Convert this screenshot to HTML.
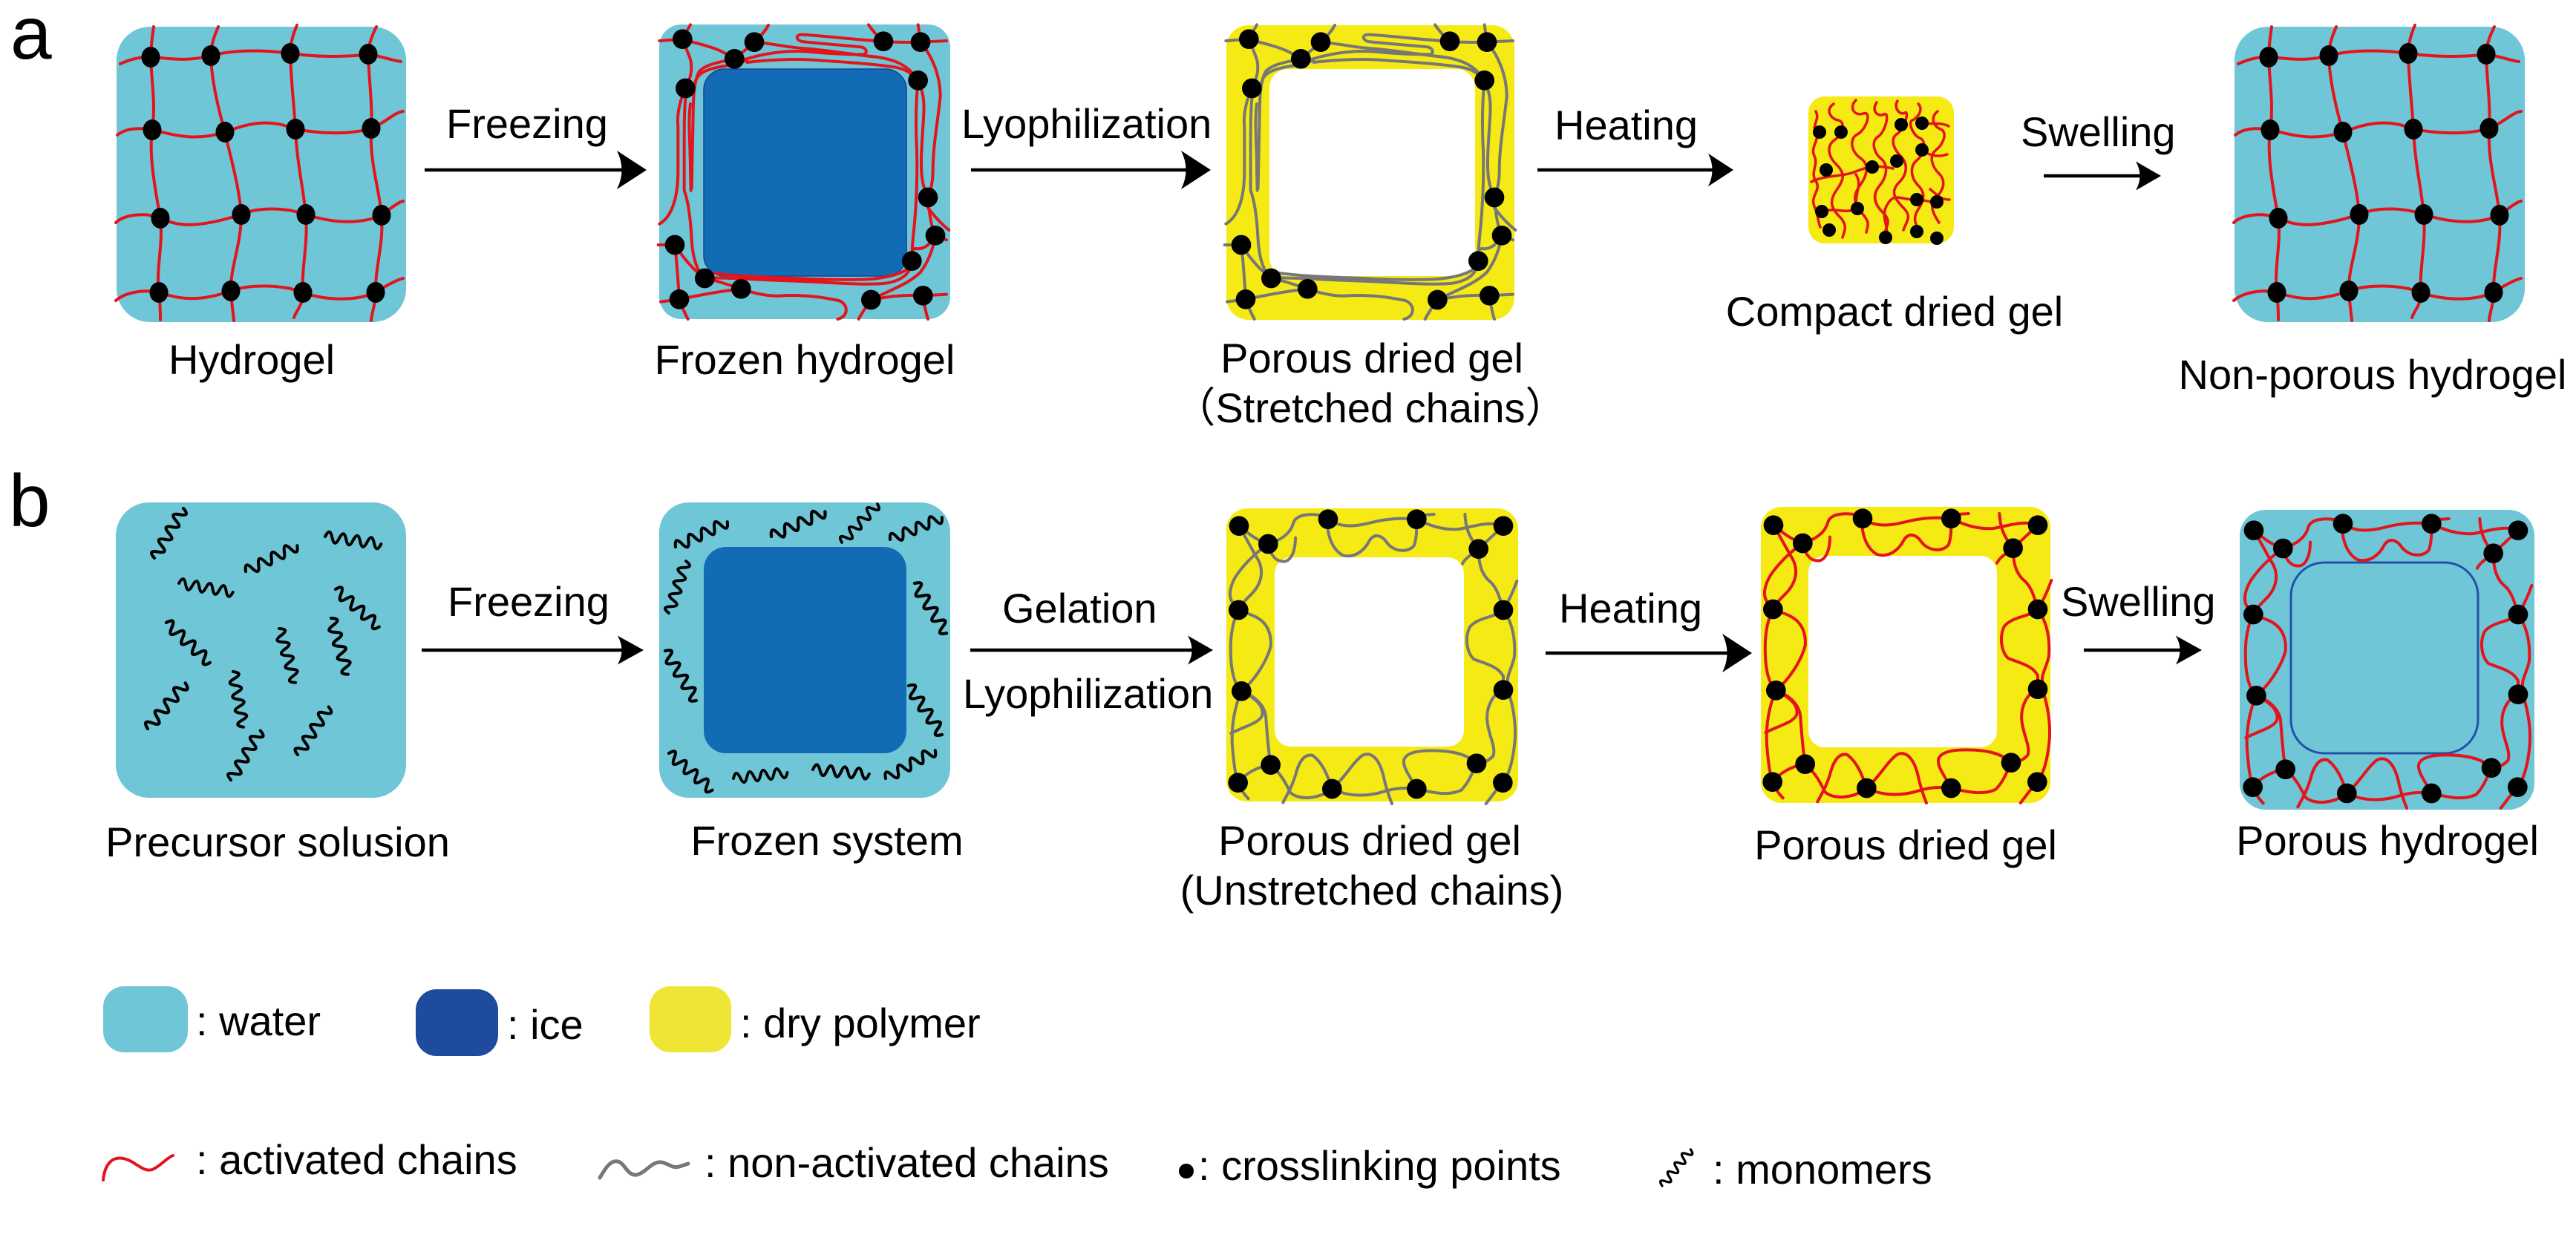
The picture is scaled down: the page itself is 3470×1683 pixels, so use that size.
<!DOCTYPE html>
<html>
<head>
<meta charset="utf-8">
<style>
html,body{margin:0;padding:0;background:#fff;}
svg{display:block;}
text{font-family:"Liberation Sans","Noto Sans CJK SC",Arial,sans-serif;fill:#000;}
</style>
</head>
<body>
<svg width="3470" height="1683" viewBox="0 0 3470 1683" xmlns="http://www.w3.org/2000/svg">
<defs>
  <path id="ah" d="M0,0 L-40,-26 Q-27,0 -40,26 Z" fill="#000"/>
  <path id="mono" d="M0,0 q4.75,-14 9.5,0 t9.5,0 t9.5,0 t9.5,0 t9.5,0 t9.5,0 t9.5,0 t9.5,0" fill="none" stroke="#000" stroke-width="4" stroke-linecap="round"/>

  <!-- hydrogel grid -->
  <g id="grid">
    <g fill="none" stroke="#e3141b" stroke-width="4" stroke-linecap="round">
      <path d="M162,86 C180,78 190,77 203,77 C225,78 250,84 284,75 C310,68 350,66 391,72 C420,76 460,78 496,73 C515,76 530,82 540,83"/>
      <path d="M158,182 C170,172 190,172 205,175 C230,180 260,192 303,178 C330,168 360,158 398,174 C430,180 470,182 500,173 C520,165 530,152 543,150"/>
      <path d="M156,300 C165,290 195,285 216,294 C240,305 265,308 325,289 C345,280 380,278 412,289 C440,298 480,305 514,290 C525,282 535,273 543,271"/>
      <path d="M156,405 C170,393 195,390 214,394 C235,400 260,410 311,392 C335,383 380,383 408,394 C430,403 475,408 506,394 C520,385 532,378 543,375"/>
      <path d="M207,36 C205,50 203,65 203,77 C204,110 210,140 205,175 C200,210 210,260 216,294 C220,330 210,360 214,394 C216,410 216,420 216,431"/>
      <path d="M294,36 C288,50 284,62 284,75 C285,110 295,150 303,178 C310,210 322,250 325,289 C325,330 310,360 311,392 C312,410 314,420 315,432"/>
      <path d="M400,34 C394,48 391,60 391,72 C392,110 396,140 398,174 C400,220 408,250 412,289 C415,330 406,360 408,394 C409,410 398,420 396,428"/>
      <path d="M507,36 C500,50 496,62 496,73 C497,110 502,140 500,173 C498,220 510,250 514,290 C517,330 505,360 506,394 C506,410 501,420 500,432"/>
    </g>
    <g fill="#000">
      <ellipse cx="203" cy="77" rx="12.5" ry="14"/><ellipse cx="284" cy="75" rx="12.5" ry="14"/><ellipse cx="391" cy="72" rx="12.5" ry="14"/><ellipse cx="496" cy="73" rx="12.5" ry="14"/>
      <ellipse cx="205" cy="175" rx="12.5" ry="14"/><ellipse cx="303" cy="178" rx="12.5" ry="14"/><ellipse cx="398" cy="174" rx="12.5" ry="14"/><ellipse cx="500" cy="173" rx="12.5" ry="14"/>
      <ellipse cx="216" cy="294" rx="12.5" ry="14"/><ellipse cx="325" cy="289" rx="12.5" ry="14"/><ellipse cx="412" cy="289" rx="12.5" ry="14"/><ellipse cx="514" cy="290" rx="12.5" ry="14"/>
      <ellipse cx="214" cy="394" rx="12.5" ry="14"/><ellipse cx="311" cy="392" rx="12.5" ry="14"/><ellipse cx="408" cy="394" rx="12.5" ry="14"/><ellipse cx="506" cy="394" rx="12.5" ry="14"/>
    </g>
  </g>

  <!-- stretched chains (zoom coords, scale 1/3) -->
  <g id="stretchChains" fill="none" stroke-width="12" stroke-linecap="round" stroke-linejoin="round">
    <path d="M25,815 C70,790 100,720 100,600 L100,420 C95,380 105,320 130,267"/>
    <path d="M130,267 C150,230 160,190 150,150 C140,120 125,90 118,68"/>
    <path d="M150,10 C140,30 125,50 118,68"/>
    <path d="M25,75 L118,68"/>
    <path d="M118,68 C170,85 230,95 280,120 C300,130 315,140 328,148"/>
    <path d="M328,148 C360,120 390,100 408,80 C430,60 450,40 465,12"/>
    <path d="M130,310 C125,360 125,420 125,520 L125,680 C140,720 150,780 155,880 C160,960 180,1010 208,1035"/>
    <path d="M155,670 L160,420 C162,320 160,250 185,200 C210,170 270,160 328,148"/>
    <path d="M170,240 C180,200 230,185 300,175 C340,168 370,160 380,150"/>
    <path d="M370,150 C450,125 550,110 640,120 C720,128 800,130 850,130 C865,128 865,105 840,100 C760,92 660,85 600,78 C575,70 575,50 600,50 C700,55 800,70 930,77"/>
    <path d="M408,80 C470,85 540,100 600,105 C700,112 800,130 900,140 C970,150 1030,170 1070,235"/>
    <path d="M380,162 C460,152 560,147 640,152 C760,160 880,167 980,182 C1030,192 1050,212 1060,232"/>
    <path d="M930,77 C950,80 1010,82 1080,80 L1185,75"/>
    <path d="M870,10 C890,40 910,60 930,77"/>
    <path d="M1070,10 L1080,80"/>
    <path d="M1080,80 C1130,140 1160,220 1160,300 C1150,400 1130,500 1130,600 C1130,650 1120,680 1110,708"/>
    <path d="M1070,235 C1100,300 1095,350 1090,420 C1085,500 1080,560 1085,620 C1090,660 1100,690 1110,708"/>
    <path d="M1070,235 C1060,330 1060,420 1065,520 C1068,650 1060,780 1050,870 C1045,920 1045,940 1045,965"/>
    <path d="M1110,708 C1115,780 1125,830 1140,862"/>
    <path d="M1110,750 C1140,790 1170,820 1195,840"/>
    <path d="M1140,862 L1185,880"/>
    <path d="M1140,862 C1120,900 1090,920 1060,915 C1045,915 1040,935 1045,965"/>
    <path d="M1045,965 C1040,1020 1000,1045 940,1055 C850,1065 700,1050 550,1045 C400,1040 280,1030 208,1035"/>
    <path d="M1045,985 C1010,1015 960,1030 880,1038 C750,1045 600,1036 450,1030 C350,1026 280,1020 230,1012"/>
    <path d="M208,1035 C260,1045 300,1060 355,1078"/>
    <path d="M355,1078 C420,1100 480,1110 520,1105 C620,1100 700,1115 750,1125 C790,1140 790,1190 745,1200"/>
    <path d="M355,1078 C280,1085 200,1100 105,1120 L30,1130"/>
    <path d="M105,1120 C115,1150 130,1180 140,1200"/>
    <path d="M87,900 L20,900"/>
    <path d="M87,900 C95,960 100,1040 105,1120"/>
    <path d="M87,900 C120,950 160,1000 208,1035"/>
    <path d="M880,1122 C860,1150 840,1180 830,1200"/>
    <path d="M880,1122 C940,1110 1020,1100 1090,1105 L1185,1100"/>
    <path d="M1090,1105 C1095,1140 1100,1170 1110,1200"/>
    <path d="M880,1122 C950,1085 1030,1060 1080,1010 C1110,970 1130,920 1140,862"/>
    <path d="M150,330 C140,400 150,500 150,600 L152,680"/>
    <g fill="#000" stroke="none">
      <circle cx="118" cy="68" r="40"/><circle cx="408" cy="80" r="40"/><circle cx="328" cy="148" r="40"/>
      <circle cx="930" cy="77" r="40"/><circle cx="1080" cy="80" r="40"/><circle cx="1070" cy="235" r="40"/>
      <circle cx="130" cy="267" r="40"/><circle cx="1110" cy="708" r="40"/><circle cx="1140" cy="862" r="40"/>
      <circle cx="87" cy="900" r="40"/><circle cx="1045" cy="965" r="40"/><circle cx="208" cy="1035" r="40"/>
      <circle cx="355" cy="1078" r="40"/><circle cx="880" cy="1122" r="40"/><circle cx="1090" cy="1105" r="40"/>
      <circle cx="105" cy="1120" r="40"/>
    </g>
  </g>

  <!-- unstretched chains (zoom coords, scale 1/3) -->
  <g id="looseChains" fill="none" stroke-width="12" stroke-linecap="round" stroke-linejoin="round">
    <path d="M72,92 C100,110 120,140 190,165"/>
    <path d="M72,92 C95,130 120,180 150,230 C175,280 160,330 120,370 C95,395 80,410 70,432"/>
    <path d="M190,165 C140,200 100,240 70,280 C40,320 25,370 45,400 C55,415 65,425 70,432"/>
    <path d="M190,165 C240,150 280,125 292,80 C300,50 350,35 432,55"/>
    <path d="M190,165 C200,210 220,240 260,235 C290,225 300,180 300,140"/>
    <path d="M432,65 C425,110 440,180 490,210 C540,225 580,190 600,150 C620,120 650,130 670,160 C700,200 760,200 780,170 C790,140 790,110 790,65"/>
    <path d="M432,65 C480,100 540,95 600,80 C680,60 730,60 790,65"/>
    <path d="M790,50 L860,45"/>
    <path d="M790,65 C840,90 900,110 960,105 C1020,95 1080,70 1140,92"/>
    <path d="M985,45 C988,90 995,130 1040,185"/>
    <path d="M1040,185 L1140,92"/>
    <path d="M975,245 C985,225 1000,215 1040,185"/>
    <path d="M1040,185 C1040,240 1050,290 1090,320 C1120,350 1130,400 1140,432"/>
    <path d="M1195,315 C1175,370 1160,400 1140,432"/>
    <path d="M1140,432 C1100,465 1040,460 1005,500 C985,540 990,600 1020,630 C1070,650 1120,660 1140,700 L1140,755"/>
    <path d="M1140,432 C1175,480 1190,540 1185,620 C1175,670 1150,700 1160,730"/>
    <path d="M1140,755 C1100,770 1070,820 1075,880 C1080,940 1110,980 1100,1020 C1085,1040 1060,1050 1032,1052"/>
    <path d="M1160,760 C1180,820 1195,900 1185,980 C1175,1060 1160,1100 1138,1130"/>
    <path d="M1138,1130 C1110,1160 1090,1190 1070,1215"/>
    <path d="M1032,1052 C990,1010 920,1000 850,1000 C790,1000 745,1010 738,1040 C735,1070 760,1100 790,1155"/>
    <path d="M790,1155 C850,1170 920,1185 970,1160 C1000,1130 1015,1090 1032,1052"/>
    <path d="M448,1155 C430,1100 410,1050 370,1020 C330,1010 310,1060 300,1100 C285,1150 265,1180 250,1210"/>
    <path d="M448,1155 C500,1110 530,1050 570,1020 C610,1000 640,1040 655,1100 C665,1150 680,1190 690,1215"/>
    <path d="M448,1155 C520,1190 600,1185 660,1165 C710,1150 750,1150 790,1155"/>
    <path d="M200,1058 C190,1000 185,920 180,860 C175,820 140,780 82,760"/>
    <path d="M200,1058 C240,1090 265,1140 280,1170 C310,1200 390,1200 448,1155"/>
    <path d="M68,1130 C100,1090 150,1065 200,1058"/>
    <path d="M68,1130 C80,1160 95,1180 110,1195"/>
    <path d="M82,760 C55,820 40,900 45,980 C50,1040 55,1090 68,1130"/>
    <path d="M82,760 C130,720 180,650 200,580 C205,520 180,480 140,460 C110,445 85,440 70,432"/>
    <path d="M70,432 C40,490 35,560 40,640 C45,700 60,740 82,760"/>
    <path d="M82,760 C140,790 175,820 165,860 C150,890 100,900 40,930"/>
    <g fill="#000" stroke="none">
      <circle cx="72" cy="92" r="40"/><circle cx="190" cy="165" r="40"/><circle cx="432" cy="65" r="40"/>
      <circle cx="790" cy="65" r="40"/><circle cx="1140" cy="92" r="40"/><circle cx="1040" cy="185" r="40"/>
      <circle cx="70" cy="432" r="40"/><circle cx="1140" cy="432" r="40"/><circle cx="82" cy="760" r="40"/>
      <circle cx="1140" cy="755" r="40"/><circle cx="200" cy="1058" r="40"/><circle cx="68" cy="1130" r="40"/>
      <circle cx="448" cy="1155" r="40"/><circle cx="790" cy="1155" r="40"/><circle cx="1032" cy="1052" r="40"/>
      <circle cx="1138" cy="1130" r="40"/>
    </g>
  </g>
</defs>

<!-- ============ ROW A ============ -->
<text x="14" y="79" font-size="100">a</text>

<!-- Hydrogel -->
<rect x="157" y="36" width="390" height="398" rx="45" fill="#6fc6d6"/>
<use href="#grid"/>
<text x="339" y="504" font-size="56" text-anchor="middle">Hydrogel</text>

<!-- Arrow Freezing -->
<text x="601" y="186" font-size="56">Freezing</text>
<line x1="572" y1="229" x2="845" y2="229" stroke="#000" stroke-width="4.5"/>
<use href="#ah" transform="translate(871,229)"/>

<!-- Frozen hydrogel -->
<rect x="888" y="33" width="392" height="397" rx="30" fill="#6fc6d6"/>
<rect x="948" y="93" width="273" height="279" rx="28" fill="#116cb5" stroke="#1d3f8f" stroke-width="1.5"/>
<use href="#stretchChains" transform="translate(880,30) scale(0.33333)" stroke="#e3141b"/>
<text x="1084" y="504" font-size="56" text-anchor="middle">Frozen hydrogel</text>

<!-- Arrow Lyophilization -->
<text x="1295" y="186" font-size="56">Lyophilization</text>
<line x1="1308" y1="229" x2="1605" y2="229" stroke="#000" stroke-width="4.5"/>
<use href="#ah" transform="translate(1631,229)"/>

<!-- Porous dried gel (stretched) -->
<rect x="1652" y="34" width="388" height="397" rx="30" fill="#f6ea14"/>
<rect x="1710" y="93" width="277" height="279" rx="25" fill="#fff"/>
<use href="#stretchChains" transform="translate(1643,30) scale(0.33333)" stroke="#777777"/>
<text x="1848" y="502" font-size="56" text-anchor="middle">Porous dried gel</text>
<text x="1846" y="569" font-size="56" text-anchor="middle">（Stretched chains）</text>

<!-- Arrow Heating -->
<text x="2094" y="188" font-size="56">Heating</text>
<line x1="2071" y1="229" x2="2310" y2="229" stroke="#000" stroke-width="4.5"/>
<use href="#ah" transform="translate(2335,229) scale(0.85)"/>

<!-- Compact dried gel -->
<rect x="2436" y="130" width="196" height="198" rx="22" fill="#f6ea14"/>
<g fill="none" stroke="#e3141b" stroke-width="3.5" stroke-linecap="round">
  <path d="M2446,150 c6,12 -6,18 0,28 s-8,20 -2,32 s-6,22 2,34 s-8,20 -2,34 s4,18 8,28"/>
  <path d="M2470,140 c-12,8 -4,20 6,22 s8,18 -4,26 s-10,22 2,34 s10,20 0,34 s-8,24 4,36 s6,20 4,28"/>
  <path d="M2500,135 c-10,10 -2,22 10,18 s4,22 -8,28 s-8,24 4,32 s10,22 0,36 s-10,24 2,38 s8,16 6,26"/>
  <path d="M2528,138 c-8,12 2,20 10,16 s2,24 -8,30 s-6,22 4,30 s8,24 -2,36 s-8,24 4,36 s6,16 2,30"/>
  <path d="M2556,136 c-6,10 4,20 10,16 s0,22 -10,28 s-6,20 4,30 s10,24 -2,36 s-6,22 6,34 s4,18 0,30"/>
  <path d="M2584,140 c8,8 -2,20 -8,22 s0,20 10,24 s6,22 -4,30 s-8,24 2,34 s8,20 0,32 s-4,20 2,30"/>
  <path d="M2610,150 c-10,8 -6,20 4,24 s4,20 -6,28 s-6,22 4,32 s6,22 -4,32 s-4,22 4,34"/>
  <path d="M2589,166 c12,2 24,-2 36,4"/>
  <path d="M2589,202 c10,8 22,10 34,6"/>
  <path d="M2440,245 c20,-10 40,-6 60,-14 s30,-8 50,-4"/>
  <path d="M2600,255 c10,8 14,14 26,14"/>
  <path d="M2502,281 c-6,-20 8,-30 -2,-46"/>
  <path d="M2454,285 c20,-6 30,4 48,-4"/>
  <path d="M2540,320 c6,-16 -8,-26 2,-44 s18,-6 40,-7"/>
  <path d="M2582,269 c10,0 18,4 27,3"/>
</g>
<g fill="#000">
  <circle cx="2451" cy="178" r="9"/><circle cx="2480" cy="178" r="9"/><circle cx="2561" cy="168" r="9"/><circle cx="2589" cy="166" r="9"/>
  <circle cx="2589" cy="202" r="9"/><circle cx="2460" cy="229" r="9"/><circle cx="2522" cy="225" r="9"/><circle cx="2555" cy="217" r="9"/>
  <circle cx="2582" cy="269" r="9"/><circle cx="2609" cy="272" r="9"/><circle cx="2502" cy="281" r="9"/><circle cx="2454" cy="285" r="9"/>
  <circle cx="2464" cy="310" r="9"/><circle cx="2540" cy="320" r="9"/><circle cx="2582" cy="312" r="9"/><circle cx="2609" cy="321" r="9"/>
</g>
<text x="2552" y="439" font-size="56" text-anchor="middle">Compact dried gel</text>

<!-- Arrow Swelling -->
<text x="2722" y="197" font-size="56">Swelling</text>
<line x1="2753" y1="237" x2="2890" y2="237" stroke="#000" stroke-width="4.5"/>
<use href="#ah" transform="translate(2911,237) scale(0.85,0.75)"/>

<!-- Non-porous hydrogel -->
<rect x="3010" y="36" width="391" height="398" rx="45" fill="#6fc6d6"/>
<use href="#grid" transform="translate(2853,0)"/>
<text x="3196" y="524" font-size="56" text-anchor="middle">Non-porous hydrogel</text>

<!-- ============ ROW B ============ -->
<text x="12" y="709" font-size="100">b</text>

<!-- Precursor solution -->
<rect x="156" y="677" width="391" height="398" rx="45" fill="#6fc6d6"/>
<use href="#mono" transform="translate(208,752) rotate(-59.8) scale(1.02)"/>
<use href="#mono" transform="translate(331,770) rotate(-26.6) scale(1.02)"/>
<use href="#mono" transform="translate(438,723) rotate(7.6)"/>
<use href="#mono" transform="translate(241,786) rotate(9.3) scale(0.97)"/>
<use href="#mono" transform="translate(452,794) rotate(40.8) scale(1.02)"/>
<use href="#mono" transform="translate(224,839) rotate(42.5) scale(1.05)"/>
<use href="#mono" transform="translate(376,847) rotate(73.2)"/>
<use href="#mono" transform="translate(446,833) rotate(73.2) scale(1.04)"/>
<use href="#mono" transform="translate(199,982) rotate(-50.6) scale(1.05)"/>
<use href="#mono" transform="translate(314,905) rotate(79.4)"/>
<use href="#mono" transform="translate(311,1051) rotate(-59.2) scale(1.02)"/>
<use href="#mono" transform="translate(401,1017) rotate(-57.1) scale(1.01)"/>
<text x="374" y="1154" font-size="56" text-anchor="middle">Precursor solusion</text>

<!-- Arrow Freezing b -->
<text x="603" y="830" font-size="56">Freezing</text>
<line x1="568" y1="876" x2="842" y2="876" stroke="#000" stroke-width="4.5"/>
<use href="#ah" transform="translate(867,876) scale(0.88,0.75)"/>

<!-- Frozen system -->
<rect x="888" y="677" width="392" height="398" rx="40" fill="#6fc6d6"/>
<rect x="948" y="737" width="273" height="278" rx="30" fill="#116cb5"/>
<use href="#mono" transform="translate(910,737) rotate(-25.9) scale(1.02)"/>
<use href="#mono" transform="translate(1039,723) rotate(-25) scale(1.05)"/>
<use href="#mono" transform="translate(1134,731) rotate(-47.3) scale(0.93)"/>
<use href="#mono" transform="translate(1199,727) rotate(-23.2)"/>
<use href="#mono" transform="translate(924,756) rotate(108.2) scale(0.97)"/>
<use href="#mono" transform="translate(896,877) rotate(57.9) scale(1.04)"/>
<use href="#mono" transform="translate(1232,786) rotate(57.3) scale(1.05)"/>
<use href="#mono" transform="translate(1224,924) rotate(55.7) scale(1.05)"/>
<use href="#mono" transform="translate(901,1015) rotate(40.3) scale(1.01)"/>
<use href="#mono" transform="translate(988,1049) rotate(-6.3) scale(0.96)"/>
<use href="#mono" transform="translate(1095,1037) rotate(4.5)"/>
<use href="#mono" transform="translate(1193,1049) rotate(-29.6) scale(1.01)"/>
<text x="1114" y="1152" font-size="56" text-anchor="middle">Frozen system</text>

<!-- Arrow Gelation / Lyophilization -->
<text x="1350" y="839" font-size="56">Gelation</text>
<line x1="1307" y1="876" x2="1610" y2="876" stroke="#000" stroke-width="4.5"/>
<use href="#ah" transform="translate(1634,876) scale(0.85,0.75)"/>
<text x="1297" y="954" font-size="56">Lyophilization</text>

<!-- Porous dried gel (unstretched) -->
<rect x="1652" y="685" width="393" height="395" rx="28" fill="#f6ea14"/>
<rect x="1717" y="751" width="255" height="255" rx="22" fill="#fff"/>
<use href="#looseChains" transform="translate(1645,678) scale(0.33333)" stroke="#777777"/>
<text x="1845" y="1152" font-size="56" text-anchor="middle">Porous dried gel</text>
<text x="1848" y="1219" font-size="56" text-anchor="middle">(Unstretched chains)</text>

<!-- Arrow Heating b -->
<text x="2100" y="839" font-size="56">Heating</text>
<line x1="2082" y1="880" x2="2335" y2="880" stroke="#000" stroke-width="4.5"/>
<use href="#ah" transform="translate(2360,880)"/>

<!-- Porous dried gel (red) -->
<rect x="2372" y="683" width="390" height="399" rx="28" fill="#f6ea14"/>
<rect x="2436" y="749" width="254" height="258" rx="22" fill="#fff"/>
<use href="#looseChains" transform="translate(2365,677) scale(0.33333)" stroke="#e3141b"/>
<text x="2567" y="1158" font-size="56" text-anchor="middle">Porous dried gel</text>

<!-- Arrow Swelling b -->
<text x="2776" y="830" font-size="56">Swelling</text>
<line x1="2807" y1="876" x2="2942" y2="876" stroke="#000" stroke-width="4.5"/>
<use href="#ah" transform="translate(2966,876) scale(0.88,0.75)"/>

<!-- Porous hydrogel -->
<rect x="3017" y="687" width="397" height="404" rx="35" fill="#6fc6d6"/>
<rect x="3086" y="758" width="252" height="257" rx="45" fill="#6fc6d6" stroke="#2451a8" stroke-width="3"/>
<use href="#looseChains" transform="translate(3012,684) scale(0.33333)" stroke="#e3141b"/>
<text x="3216" y="1152" font-size="56" text-anchor="middle">Porous hydrogel</text>

<!-- ============ LEGEND ============ -->
<rect x="139" y="1329" width="114" height="89" rx="28" fill="#6fc6d6"/>
<text x="264" y="1395" font-size="56">: water</text>
<rect x="560" y="1333" width="111" height="90" rx="28" fill="#1f4b9e"/>
<text x="683" y="1400" font-size="56">: ice</text>
<rect x="875" y="1329" width="110" height="89" rx="28" fill="#efe535"/>
<text x="997" y="1398" font-size="56">: dry polymer</text>

<path d="M139,1590 C141,1570 150,1558 166,1561 C182,1564 192,1580 205,1576 C215,1572 225,1560 233,1557" fill="none" stroke="#e3141b" stroke-width="4" stroke-linecap="round"/>
<text x="264" y="1582" font-size="56">: activated chains</text>
<path d="M808,1587 C815,1575 822,1563 832,1565 C842,1567 845,1585 858,1583 C870,1580 878,1565 890,1566 C900,1567 905,1575 915,1572 L927,1568" fill="none" stroke="#777777" stroke-width="5" stroke-linecap="round"/>
<text x="949" y="1586" font-size="56">: non-activated chains</text>
<circle cx="1598" cy="1578" r="10" fill="#000"/>
<text x="1614" y="1590" font-size="56">: crosslinking points</text>
<use href="#mono" transform="translate(2239,1598) rotate(-52) scale(0.82)"/>
<text x="2307" y="1595" font-size="56">: monomers</text>
</svg>
</body>
</html>
